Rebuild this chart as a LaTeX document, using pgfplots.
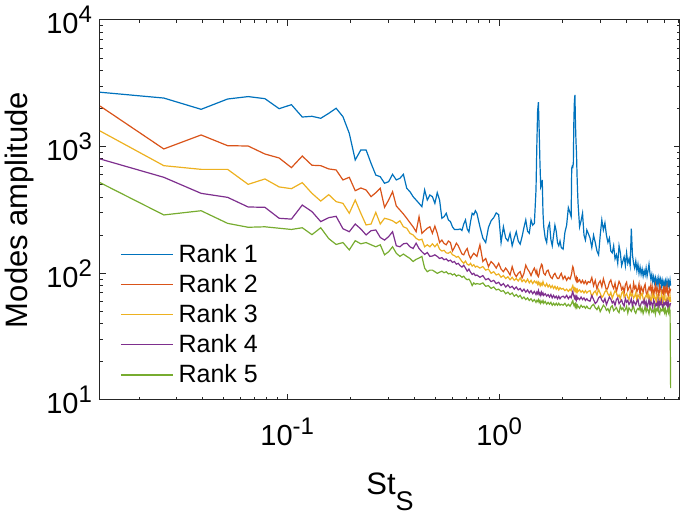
\documentclass[border=0pt]{standalone}
\usepackage{pgfplots}
\pgfplotsset{compat=1.18}
\usepackage{pgfplotstable}
\usepackage{fontspec}
\setmainfont{Liberation Sans}
\definecolor{c1}{rgb}{0,0.447,0.741}
\definecolor{c2}{rgb}{0.85,0.325,0.098}
\definecolor{c3}{rgb}{0.929,0.694,0.125}
\definecolor{c4}{rgb}{0.494,0.184,0.556}
\definecolor{c5}{rgb}{0.466,0.674,0.188}
\definecolor{axgray}{rgb}{0.15,0.15,0.15}
\newcommand{\ticksize}{\fontsize{14.5bp}{17bp}\selectfont}
\newcommand{\labsize}{\fontsize{15.5bp}{18bp}\selectfont}
\newcommand{\legsize}{\fontsize{12.5bp}{15bp}\selectfont}
\newcommand{\tl}[1]{10\raisebox{5.5bp}{\fontsize{12bp}{13bp}\selectfont #1}}
\pgfplotstableread{
k r1 r2 r3 r4 r5
1 2690 2094 1331 800 520
2 2420 959 708 573 289
3 1972 1237 662 428 312
4 2378 1018 662 398 248
5 2485 1012 504 334 231
6 2393 875 556 332 233
7 1995 814 481 272 227
8 2145 683 466 268 222
9 1714 843 520 346 229
10 1737 713 428 307 202
11 1675 708 372 256 229
12 1833 667 418 275 188
13 2010 655 368 282 169
14 1726 546 357 225 175
15 1274 573 298 213 153
16 785 449 379 245 181
17 942 472 298 224 171
18 942 455 241 201 175
19 739 403 245 217 168
20 597 433 303 220 162
21 579 469 245 192 168
22 514 332 272 183 140
23 529 379 267 195 148
24 605 441 260 213 162
25 546 340 248 165 144
26 563 316 260 162 136
27 605 294 233 171 142
28 469 272 227 173 136
29 441 251 207 162 131
30 403 233 201 157 124
31 379 213 189 173 129
32 357 280 183 157 132
33 336 207 186 148 136
34 455 217 162 141 110
35 379 227 168 146 103
36 415 233 162 136 106
37 403 207 171 137 106
38 357 236 162 140 103
39 433 207 171 136 100
40 379 175 155 131 102
41 272 183 150 133 104
42 280 172 152 128 101
43 298 168 145 130 103
44 264 180 144 125 99
45 256 175 148 127 100
46 233 150 140 122 97
47 222 160 138 124 99
48 222 173 134 118 95
49 222 165 136 120 97
50 224 153 130 115 96
51 218 142 124 112 93
52 245 140 120 116 95
53 264 150 125 110 91
54 224 157 118 104 89
55 212 140 116 108 90
56 256 131 120 102 86
57 298 138 114 98 80
58 290 144 117 100 84
59 312 140 112 96 82
60 298 136 114 97 83
62 233 168 110 93 82
64 190 124 113 96 84
66 175 131 106 89 79
68 230 113 108 91 80
70 260 124 100 86 76
72 275 118 103 88 78
74 300 110 97 83 74
76 290 120 99 85 75
78 175 108 93 80 72
80 233 103 96 83 73
82 190 110 91 78 69
84 180 104 94 81 71
86 207 97 89 77 68
88 165 113 93 79 70
90 190 100 88 75 66
92 213 94 91 78 68
94 180 100 87 74 65
96 170 103 92 76 67
98 195 92 86 72 63
100 230 100 89 75 65
102 264 116 85 71 62
104 215 108 90 74 64
106 207 103 84 70 61
108 264 96 88 73 63
110 240 104 83 69 60
112 248 110 87 72 62
114 455 100 84 68 59
115 1000 105 86 71 61
116 1900 96 82 69 60
117 2250 94 85 73 62
118 1350 99 81 68 59
119 740 108 84 70 61
120 480 112 80 67 58
121 500 118 83 71 60
122 546 116 81 68 59
123 300 106 86 70 61
124 233 100 82 67 58
126 190 97 79 69 60
128 175 104 83 66 57
130 230 106 78 68 59
132 248 98 81 65 57
134 185 93 77 68 59
136 165 91 80 64 56
138 200 97 76 67 58
140 240 100 79 64 56
142 215 95 75 66 58
144 175 91 78 63 56
146 165 91 74 66 58
148 180 96 77 63 56
150 160 100 75 65 57
153 155 90 76 66 56
156 210 95 73 64 58
159 240 88 75 67 55
162 330 93 72 63 57
165 300 90 75 66 55
167 280 96 73 64 57
168 675 100 76 67 58
169 700 108 78 70 60
170 690 113 80 72 61
171 739 110 77 68 58
172 1620 104 74 66 56
173 2300 98 76 64 57
174 2560 94 73 66 55
175 1527 90 75 63 57
176 1100 88 72 65 54
177 886 92 74 62 56
178 600 87 71 65 54
179 450 90 74 63 56
180 357 86 72 64 55
183 233 89 74 62 53
186 260 84 71 65 56
189 298 88 73 62 54
192 200 83 70 64 55
195 183 87 73 61 53
198 220 82 70 63 55
201 207 86 72 61 53
205 190 84.5 73.0 60.3 52.4
209 160 92.7 65.4 66.7 55.4
213 200 79.8 70.2 62.2 56.9
217 175 87.9 72.5 57.7 53.5
221 150 75.2 67.4 59.6 51.7
225 140 83.3 74.6 63.9 54.8
229 200 87.2 69.5 65.8 49.8
233 264 78.5 64.5 61.4 52.9
237 220 90.5 66.8 59.1 56.0
241 250 81.9 71.5 63.2 54.4
245 200 73.4 73.7 56.6 51.1
249 175 77.1 68.8 60.8 52.6
253 190 84.9 66.2 65.0 49.4
257 150 88.6 70.9 62.6 54.1
261 145 80.2 63.5 58.3 55.5
265 165 75.9 68.2 60.2 50.7
269 130 83.5 72.8 55.9 52.2
273 140 71.3 70.2 62.1 53.7
277 120 78.8 65.3 64.0 50.5
281 165 86.4 67.5 57.6 48.9
285 145 82.2 62.7 59.6 55.1
289 115 74.2 69.7 61.6 51.9
293 125 77.9 71.8 57.3 53.5
297 135 69.9 64.7 55.2 50.3
301 115 81.4 66.9 63.3 51.8
305 145 85.0 69.1 59.1 54.9
309 120 73.2 64.4 61.1 48.6
313 130 76.9 61.9 56.8 53.3
317 115 80.5 71.0 58.8 51.7
321 225 72.7 66.3 62.8 50.1
325 140 68.7 68.5 54.5 53.1
329 120 83.7 63.8 60.5 54.7
333 110 75.9 66.0 58.4 50.0
337 125 79.5 70.5 56.3 48.4
341 105 71.6 61.1 60.2 51.5
345 118 75.2 67.9 62.2 52.9
349 100 82.5 65.5 56.0 51.4
353 112 67.4 63.1 53.9 54.5
357 98 78.5 67.6 57.9 49.8
361 108 74.7 69.8 59.9 52.8
365 95 70.9 62.8 57.9 48.2
369 105 78.2 60.5 61.8 51.2
373 97 81.8 64.9 55.8 54.3
377 110 70.6 67.1 59.8 49.7
381 95 66.8 64.7 53.7 52.6
385 105 74.1 69.1 57.7 51.1
389 118 77.7 62.2 61.7 48.0
393 100 73.9 66.7 55.6 54.1
397 90 81.2 59.8 59.6 52.5
401 98 70.0 64.2 57.6 49.5
405 86 77.3 68.6 53.5 50.9
409 94 66.2 61.8 61.5 49.4
413 84 73.4 66.1 59.4 54.0
417 92 80.6 63.8 55.4 47.8
421 82 69.5 59.2 57.4 52.3
425 90 76.8 68.1 55.3 50.8
429 80 73.0 65.7 61.3 53.7
433 92 65.7 61.3 53.3 49.2
437 84 80.2 63.4 59.2 47.7
441 90 76.5 61.0 57.2 52.2
445 79 69.2 67.5 61.1 50.7
449 88 72.7 58.6 55.0 52.1
453 80 69.1 65.0 52.9 50.6
457 86 79.9 62.7 58.9 53.6
461 78 65.3 67.0 56.8 49.1
465 87 76.1 60.2 58.7 52.1
469 80 72.4 57.9 56.6 47.5
473 88 79.5 64.4 60.6 50.5
477 79 68.7 62.0 54.5 52.0
481 86 65.0 64.1 58.4 49.0
485 78 75.7 61.8 52.4 53.5
489 88 72.1 65.9 56.3 50.5
492 80 75.6 59.3 58.2 12.4
}\data
\begin{document}
\begin{tikzpicture}
\begin{axis}[
  name=ax, scale only axis, width=290bp, height=190bp,
  xmode=log, ymode=log,
  xmin=0.01309, xmax=7.13, ymin=10, ymax=10000,
  xtick={0.1,1}, xticklabels={\tl{-1},\tl{0}},
  ytick={10,100,1000,10000}, yticklabels={\tl{1},\tl{2},\tl{3},\tl{4}},
  minor xtick={0.02,0.03,0.04,0.05,0.06,0.07,0.08,0.09,0.2,0.3,0.4,0.5,0.6,0.7,0.8,0.9,2,3,4,5,6,7},
  minor ytick={20,30,40,50,60,70,80,90,200,300,400,500,600,700,800,900,2000,3000,4000,5000,6000,7000,8000,9000},
  tick align=inside, major tick length=3bp, minor tick length=1.6bp,
  axis line style={draw=axgray, line width=0.5bp},
  every tick/.style={draw=axgray, line width=0.5bp},
  tick label style={font=\ticksize, text=black},
  xticklabel style={anchor=north, yshift=-5.5bp},
  yticklabel style={anchor=east, xshift=-0.5bp},
  xlabel={St\raisebox{-7.8bp}{\fontsize{13.5bp}{14bp}\selectfont S}},
  ylabel={Modes amplitude},
  every axis x label/.style={at={(axis description cs:0.5,-0.192)}, anchor=north, inner sep=0pt, font=\labsize},
  every axis y label/.style={at={(axis description cs:-0.1638,0.5)}, anchor=north, rotate=90, inner sep=0pt, font=\labsize},
  legend style={draw=none, fill=none, at={(axis description cs:0.0345,0.037)}, anchor=south west,
    inner sep=0pt, font=\legsize, row sep=4.5bp, column sep=2.5bp, nodes={inner sep=0pt}},
  legend cell align=left,
  legend image code/.code={\draw[#1, line width=0.6bp] (0bp,0bp) -- (26bp,0bp);},
  no markers,
  every axis plot/.append style={line width=0.6bp},
]
\addplot[c1] table[x expr=\thisrow{k}*0.01309, y=r1] {\data};
\addplot[c2] table[x expr=\thisrow{k}*0.01309, y=r2] {\data};
\addplot[c3] table[x expr=\thisrow{k}*0.01309, y=r3] {\data};
\addplot[c4] table[x expr=\thisrow{k}*0.01309, y=r4] {\data};
\addplot[c5] table[x expr=\thisrow{k}*0.01309, y=r5] {\data};
\legend{Rank 1,Rank 2,Rank 3,Rank 4,Rank 5}
\end{axis}
\pgfresetboundingbox
\path[use as bounding box] ([shift={(-50bp,-61.5bp)}]ax.south west) rectangle ([shift={(2.5bp,10bp)}]ax.north east);
\end{tikzpicture}
\end{document}
